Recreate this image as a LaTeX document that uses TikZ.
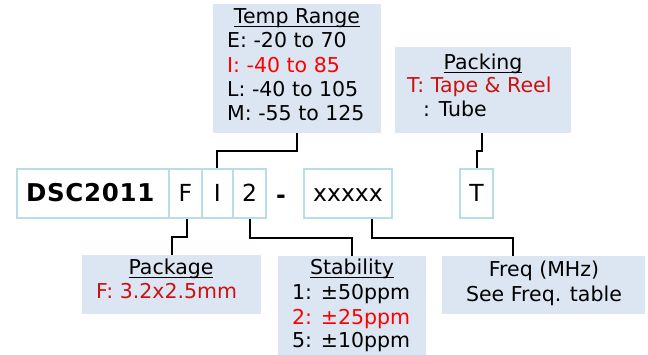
\documentclass[tikz,border=0pt]{standalone}
\usepackage{fontspec}
\setmainfont{DejaVu Sans}
\definecolor{infofill}{RGB}{220,230,242}
\definecolor{codeborder}{RGB}{182,222,228}
\definecolor{brightred}{RGB}{255,0,0}
\definecolor{darkred}{RGB}{204,17,17}
\newcommand{\ulin}[1]{\setbox0\hbox{#1}\rlap{\rule[-3.4pt]{\wd0}{1.6pt}}\box0}
\begin{document}
\begin{tikzpicture}[x=1pt,y=-1pt,
  code/.style={draw=codeborder, line width=2pt, minimum height=49pt, inner sep=0pt,
    text height=17pt, text depth=0pt, font=\fontsize{23.5}{28}\selectfont, anchor=north west},
  info/.style={fill=infofill, draw=none, inner sep=0pt, anchor=north west},
  ttl/.style={anchor=base, inner sep=0pt, font=\fontsize{20.5}{25}\selectfont},
  txt/.style={anchor=base west, inner sep=0pt, font=\fontsize{20.5}{25}\selectfont},
  ctxt/.style={anchor=base, inner sep=0pt, font=\fontsize{20.5}{25}\selectfont},
  conn/.style={draw=black, line width=2pt}]
\useasboundingbox (0,0) rectangle (648,355);

% info boxes
\node[info, minimum width=168pt, minimum height=129pt] (temp) at (213,4) {};
\node[info, minimum width=176pt, minimum height=86pt] (pack) at (395,47) {};
\node[info, minimum width=179pt, minimum height=59pt] (pkg) at (82,255) {};
\node[info, minimum width=148pt, minimum height=99pt] (stab) at (278,256) {};
\node[info, minimum width=203pt, minimum height=58pt] (freq) at (442,256) {};

% code row
\node[code, minimum width=152pt, text width=134pt, inner xsep=9pt, align=left,
  font=\fontsize{24.5}{28}\selectfont\bfseries\addfontfeatures{LetterSpace=3}] (dsc) at (16,168) {DSC2011};
\node[code, minimum width=32.7pt] (F) at (168,168) {F};
\node[code, minimum width=31.3pt] (I) at (200.7,168) {I};
\node[code, minimum width=33pt] (two) at (232,168) {2};
\node[anchor=base, inner sep=0pt, font=\fontsize{23.5}{28}\selectfont\bfseries] (dash) at (281,204) {-};
\node[code, minimum width=88pt] (xxx) at (303,168) {xxxxx};
\node[code, minimum width=33pt] (T) at (459,168) {T};

% Temp Range text
\node[ttl] (tempT) at (297,24) {\ulin{Temp Range}};
\node[txt] (temp1) at (227,48) {E: -20 to 70};
\node[txt, text=brightred] (temp2) at (227,72.5) {I: -40 to 85};
\node[txt] (temp3) at (227,97) {L: -40 to 105};
\node[txt] (temp4) at (227,121) {M: -55 to 125};

% Packing text
\node[ttl] (packT) at (483,70) {\ulin{Packing}};
\node[txt, text=darkred] (pack1) at (407,93) {T: Tape \& Reel};
\node[txt] (pack2) at (423,117) {: Tube};

% Package text
\node[ttl] (pkgT) at (171,275) {\ulin{Package}};
\node[txt, text=darkred] (pkg1) at (96,299) {F: 3.2x2.5mm};

% Stability text
\node[ttl] (stabT) at (352,275) {\ulin{Stability}};
\node[txt] (stab1) at (292,300) {1: ±50ppm};
\node[txt, text=brightred] (stab2) at (292,324) {2: ±25ppm};
\node[txt] (stab3) at (292,348) {5: ±10ppm};

% Freq text
\node[ctxt] (freq1) at (544,276.5) {Freq (MHz)};
\node[ctxt] (freq2) at (544,301.5) {See Freq. table};

% connectors
\draw[conn] (temp.south) -- ++(0,18) -| (I.north);
\draw[conn] ([xshift=-1pt]pack.south) -- ++(0,18) -| (T.north);
\draw[conn] ([xshift=2pt]F.south) -- ++(0,18) -| (pkg.north);
\draw[conn] (two.south) -- ++(0,19) -| (stab.north);
\draw[conn] ([xshift=24pt]xxx.south) -- ++(0,19) -| ([xshift=-30.5pt]freq.north);
\end{tikzpicture}
\end{document}
